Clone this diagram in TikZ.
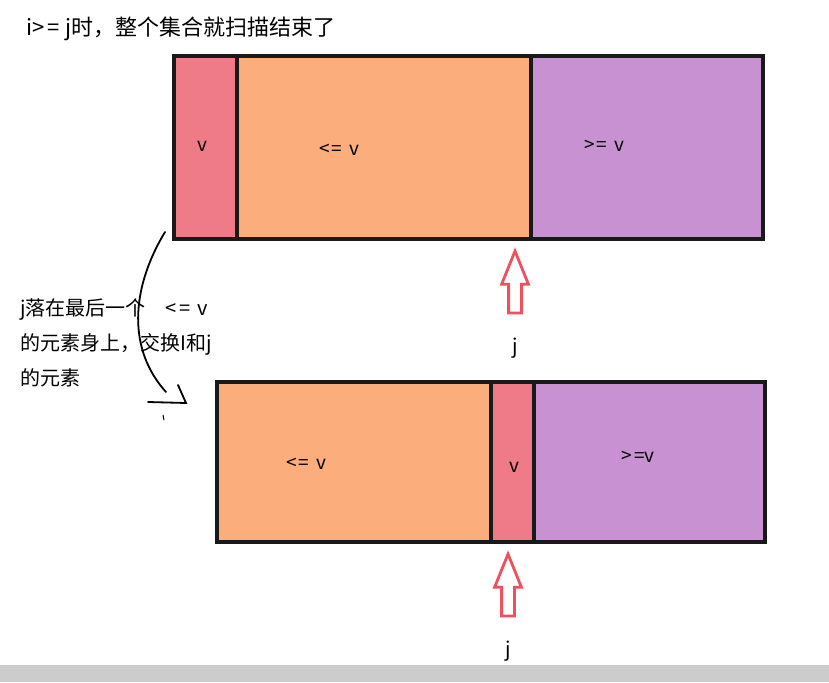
\documentclass[tikz,border=0pt]{standalone}
\usepackage{fontspec}
\setmainfont{Noto Sans CJK SC}
\usetikzlibrary{positioning, shapes.arrows}

\definecolor{redfill}{HTML}{EF7A88}
\definecolor{orangefill}{HTML}{FBAE7C}
\definecolor{purplefill}{HTML}{C892D2}
\definecolor{arrowred}{HTML}{F0505E}

\begin{document}
\begin{tikzpicture}[x=1pt, y=-1pt,
		% Define styles
		part/.style={draw=black!90, line width=3.4pt, inner sep=0pt, outer sep=0pt, minimum height=183pt},
		lowpart/.style={part, minimum height=160pt},
		tag/.style={font=\fontsize{19}{22}\selectfont},
		note/.style={font=\fontsize{20}{35}\selectfont, align=left, inner sep=0pt},
		pointer/.style={single arrow, draw=arrowred, line width=2.8pt, fill=white, rotate=90,
			minimum height=62pt, inner xsep=0pt, inner ysep=5pt,
			single arrow head extend=7pt, single arrow tip angle=44},
		sketch/.style={draw=black, line width=1.8pt, line cap=round}
		]
		
		\useasboundingbox (0,0) rectangle (829,682);
		\fill[black!20] (0,665) rectangle (829,682);
		
		% 1. Header
		\node[note, font=\fontsize{22}{26}\selectfont, anchor=west] (title) at (26,29) {i>\hspace{3pt}=\hspace{6pt}j时，整个集合就扫描结束了};
		
		% 2. Before the swap (top row)
		\node[part, fill=redfill, minimum width=63pt, anchor=north west] (pivot) at (174,56) {};
		\node[part, fill=orangefill, minimum width=294pt, right=0pt of pivot] (lesstop) {};
		\node[part, fill=purplefill, minimum width=232pt, right=0pt of lesstop] (moretop) {};
		\node[tag] at (202,146) {v};
		\node[tag] at (339,150) {<\hspace{2pt}=\hspace{7pt}v};
		\node[tag] at (604,146) {>\hspace{2pt}=\hspace{7pt}v};
		
		\node[pointer] (jtop) at (515,290) {};
		\node[tag, font=\fontsize{20}{22}\selectfont, below=20pt of jtop.west] (jlabtop) {j};
		
		% 3. The swap
		\node[note, anchor=north west] (swapnote) at (20,298) {j落在最后一个\hspace{1em}<\hspace{3pt}=\hspace{7pt}v\\的元素身上，交换I和j\\的元素};
		\coordinate (swapfrom) at (165,232);
		\coordinate (swapto) at (166,392);
		\coordinate (headcorner) at (186,403);
		\draw[sketch] (swapfrom) .. controls (130,290) and (128,350) .. (swapto);
		\draw[sketch] (148,402) -- (headcorner) -- (178,385);
		\draw[line width=1pt] (163,415) -- (164,420);
		
		% 4. After the swap (bottom row)
		\node[lowpart, fill=orangefill, minimum width=274pt, anchor=north west] (lessbot) at (217,382) {};
		\node[lowpart, fill=redfill, minimum width=43pt, right=0pt of lessbot] (pivotbot) {};
		\node[lowpart, fill=purplefill, minimum width=231pt, right=0pt of pivotbot] (morebot) {};
		\node[tag] at (306,464) {<\hspace{2pt}=\hspace{7pt}v};
		\node[tag] at (514,467) {v};
		\node[tag] at (638,457) {>\hspace{2pt}=v};
		
		\node[pointer] (jbot) at (508,593) {};
		\node[tag, font=\fontsize{20}{22}\selectfont, below=20pt of jbot.west] (jlabbot) {j};
		
	\end{tikzpicture}
\end{document}
